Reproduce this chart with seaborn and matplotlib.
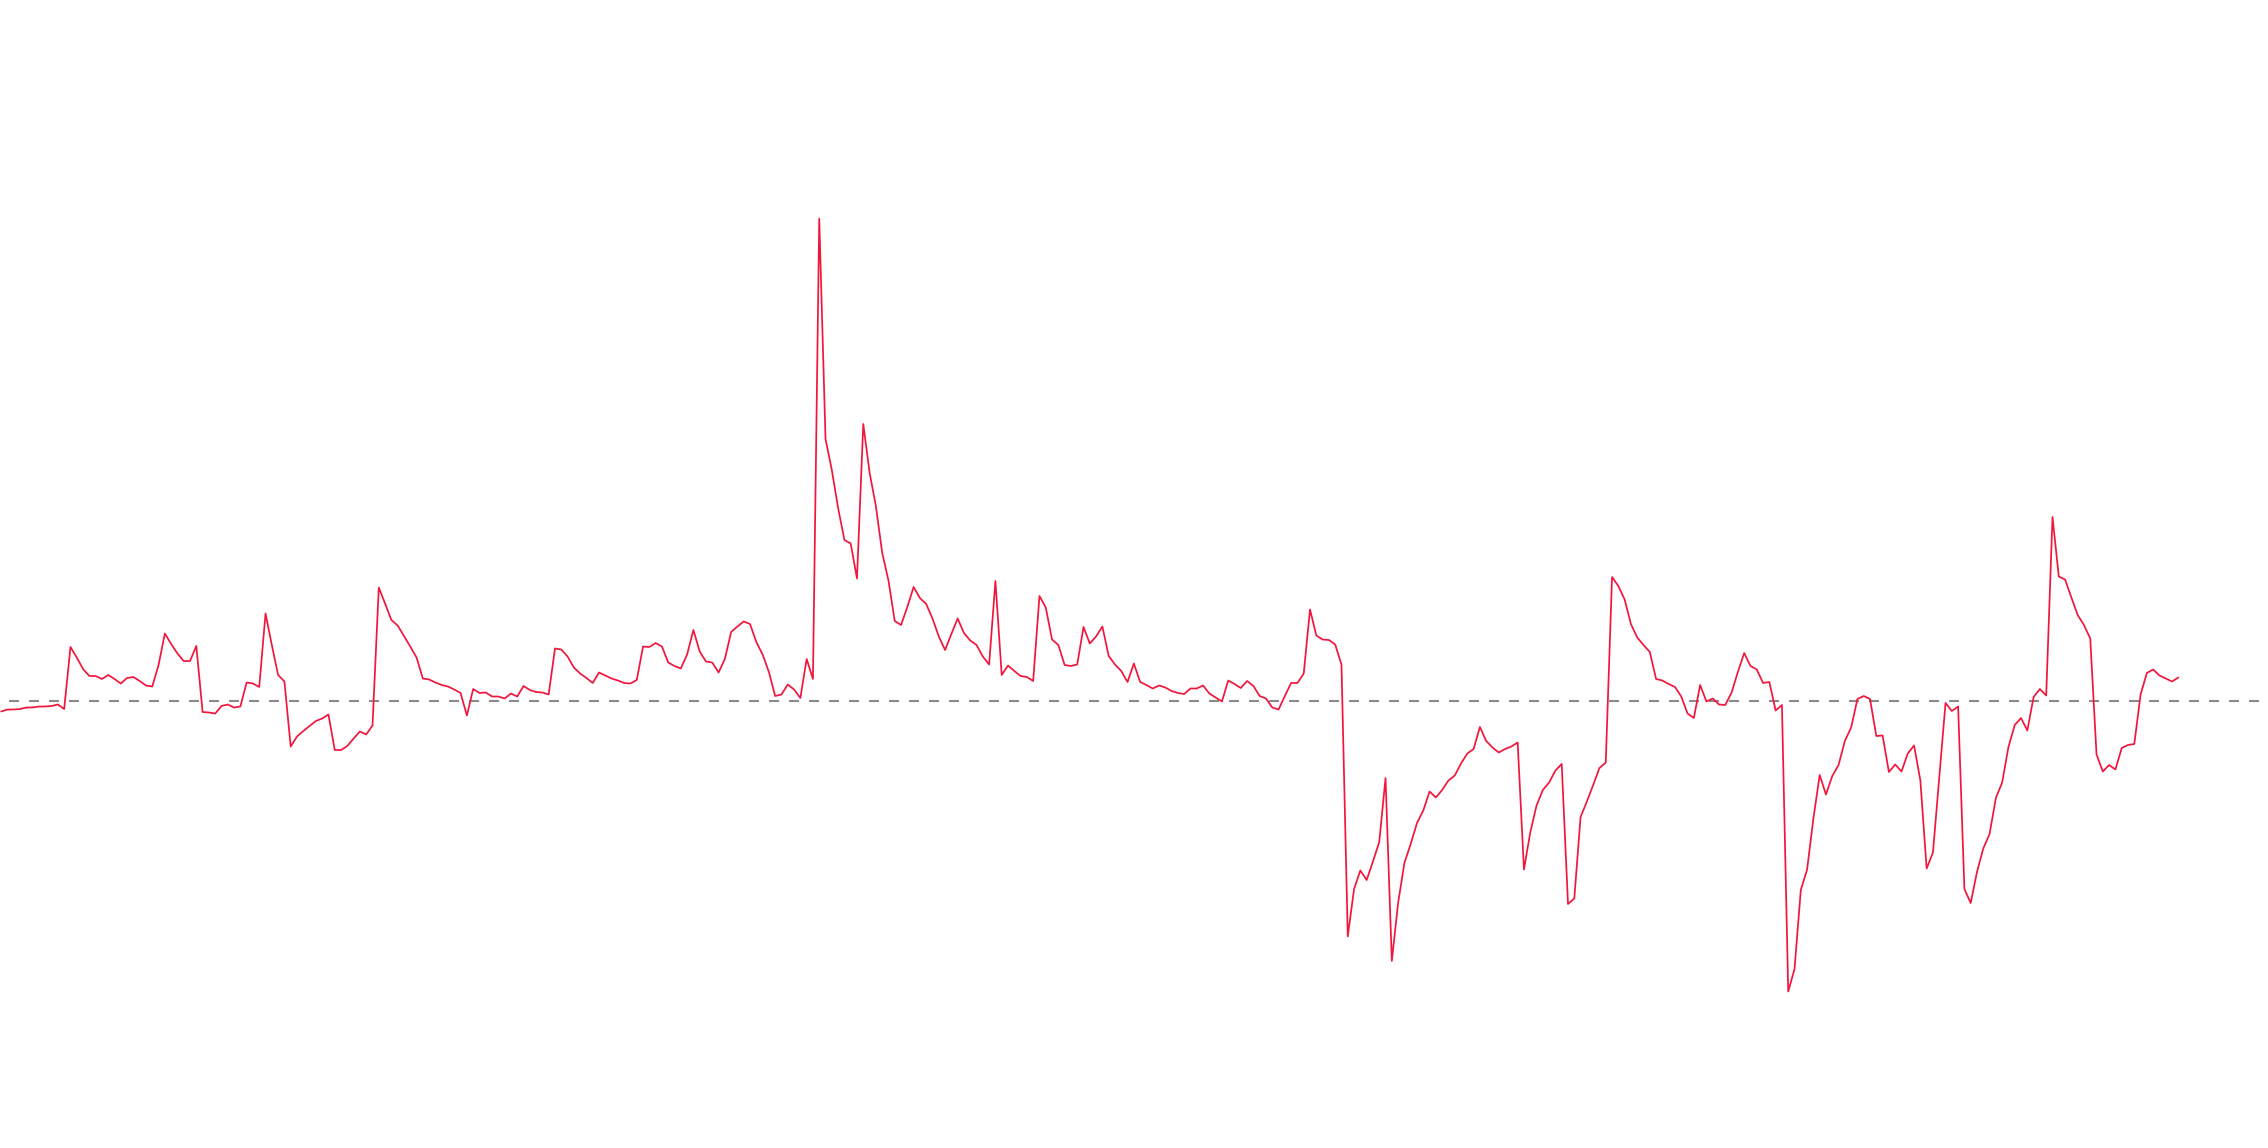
import numpy as np
import pandas as pd
import matplotlib
matplotlib.use('Agg')
import matplotlib.pyplot as plt
import seaborn as sns

# Series values, in chunks of 50 points
vals_000 = [-2.1, -1.7, -1.7, -1.6, -1.3, -1.3, -1.1, -1.1, -1.0, -0.7,
            -1.6, 10.8, 8.7, 6.4, 5.0, 5.0, 4.4, 5.2, 4.4, 3.5,
            4.6, 4.8, 4.0, 3.1, 2.9, 7.2, 13.5, 11.4, 9.5, 8.0,
            8.0, 11.0, -2.2, -2.3, -2.5, -1.0, -0.7, -1.3, -1.1, 3.7,
            3.5, 2.8, 17.5, 11.2, 5.2, 3.9, -9.1, -7.1, -6.0, -5.0]
vals_050 = [-4.0, -3.5, -2.7, -9.8, -9.8, -9.0, -7.5, -6.1, -6.7, -4.9,
            22.7, 19.5, 16.2, 15.1, 13.0, 10.9, 8.7, 4.5, 4.3, 3.7,
            3.2, 2.9, 2.3, 1.6, -2.9, 2.4, 1.6, 1.7, 0.9, 0.9,
            0.5, 1.5, 0.9, 3.0, 2.2, 1.8, 1.7, 1.3, 10.5, 10.3,
            8.9, 6.7, 5.5, 4.6, 3.6, 5.7, 5.1, 4.5, 4.1, 3.6]
vals_100 = [3.5, 4.2, 10.9, 10.8, 11.6, 10.9, 7.7, 7.0, 6.5, 9.3,
            14.2, 9.9, 7.9, 7.7, 5.7, 8.4, 13.8, 14.9, 15.9, 15.4,
            11.8, 9.3, 5.8, 1.0, 1.3, 3.3, 2.3, 0.6, 8.4, 4.4,
            96.5, 52.4, 46.2, 38.6, 32.2, 31.5, 24.5, 55.4, 45.7, 39.0,
            29.7, 24.1, 16.0, 15.2, 18.8, 22.8, 20.6, 19.4, 16.5, 12.9]
vals_150 = [10.2, 13.4, 16.5, 13.6, 12.1, 11.2, 8.9, 7.3, 24.0, 5.2,
            7.1, 6.0, 5.0, 4.8, 4.0, 21.0, 18.7, 12.3, 11.2, 7.2,
            7.0, 7.3, 14.8, 11.5, 12.9, 14.9, 9.0, 7.3, 6.0, 3.8,
            7.5, 3.8, 3.2, 2.5, 3.1, 2.7, 2.0, 1.6, 1.4, 2.5,
            2.5, 3.1, 1.5, 0.7, -0.1, 4.1, 3.4, 2.6, 4.0, 3.0]
vals_200 = [1.0, 0.5, -1.3, -1.7, 1.0, 3.6, 3.6, 5.5, 18.3, 13.1,
            12.3, 12.2, 11.3, 7.3, -47.1, -37.6, -33.9, -35.8, -32.1, -28.2,
            -15.4, -52.0, -40.4, -32.4, -28.6, -24.4, -21.9, -18.1, -19.3, -17.8,
            -15.9, -14.9, -12.5, -10.5, -9.6, -5.2, -8.0, -9.3, -10.3, -9.6,
            -9.1, -8.3, -33.7, -26.3, -20.9, -17.8, -16.3, -13.9, -12.6, -40.6]
vals_250 = [-39.5, -23.2, -20.1, -16.8, -13.4, -12.3, 24.8, 23.0, 20.3, 15.4,
            12.7, 11.2, 9.8, 4.4, 4.1, 3.4, 2.8, 0.9, -2.5, -3.4,
            3.2, -0.1, 0.5, -0.7, -0.8, 1.7, 5.8, 9.6, 7.0, 6.3,
            3.6, 3.8, -1.9, -0.8, -58.1, -53.6, -37.8, -33.7, -23.5, -14.8,
            -18.7, -15.0, -12.8, -8.0, -5.3, 0.4, 1.0, 0.4, -7.0, -6.9]
vals_300 = [-14.2, -12.7, -14.1, -10.5, -8.9, -15.9, -33.5, -30.3, -15.4, -0.4,
            -2.0, -1.1, -37.6, -40.4, -34.2, -29.5, -26.6, -19.4, -16.3, -9.2,
            -4.8, -3.4, -5.9, 0.8, 2.4, 1.1, 36.8, 24.9, 24.3, 20.7,
            17.2, 15.2, 12.5, -10.7, -14.1, -12.8, -13.7, -9.4, -8.8, -8.6,
            1.3, 5.6, 6.3, 5.1, 4.5, 3.9, 4.7]

values = vals_000 + vals_050 + vals_100 + vals_150 + vals_200 + vals_250 + vals_300
df = pd.DataFrame({'step': np.arange(len(values)), 'value': values})

sns.set_theme(style='white')
plt.rcParams['lines.scale_dashes'] = False

fig = plt.figure(figsize=(22.68, 11.48), dpi=100)
ax = fig.add_axes([0, 0, 1, 1])

# dashed zero line, 10px dash / 10px gap
ax.axhline(0, color='#8a8a8a', linewidth=1.5, linestyle=(7.9, (7.2, 7.2)), zorder=1)
sns.lineplot(ax=ax, data=df, x='step', y='value', color='#f2163d', linewidth=1.25, zorder=2)

ax.set_xlim(-0.2, 360.25)
ax.set_ylim(-89.4, 140.2)
ax.axis('off')

fig.savefig('out.png', dpi=100, facecolor='white')
